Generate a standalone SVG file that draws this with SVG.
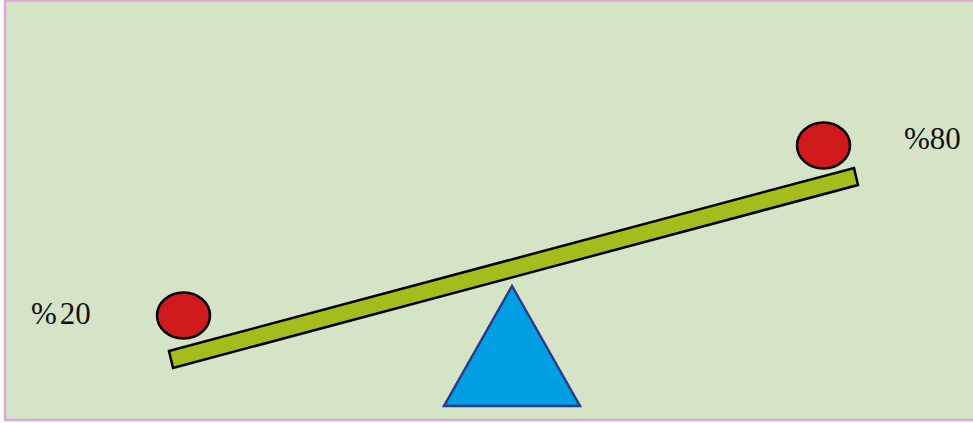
<svg xmlns="http://www.w3.org/2000/svg" width="973" height="423" viewBox="0 0 973 423">
<style>
.ball{fill:#d0191b;stroke:#000;stroke-width:2.5}
.lbl{font-family:"Liberation Serif",serif;font-size:31px;fill:#111}
</style>
<rect x="5" y="0.5" width="975" height="419.5" fill="#d5e4c6" stroke="#dba8d4" stroke-width="2.5"/>
<g id="fulcrum"><polygon points="512,286 444,406 580,406" fill="#009fe3" stroke="#2e3a87" stroke-width="2.5"/></g>
<g id="beam"><polygon points="169,351 854,168 858,185 173,368" fill="#a3be1c" stroke="#000" stroke-width="2.5"/></g>
<g id="ball-left"><ellipse cx="183.5" cy="315.5" rx="26.5" ry="23" class="ball"/></g>
<g id="ball-right"><ellipse cx="823.5" cy="145.5" rx="26.5" ry="23" class="ball"/></g>
<g id="label-20"><text x="31" y="324" class="lbl">%<tspan dx="3">20</tspan></text></g>
<g id="label-80"><text x="904" y="149" class="lbl">%80</text></g>
</svg>
